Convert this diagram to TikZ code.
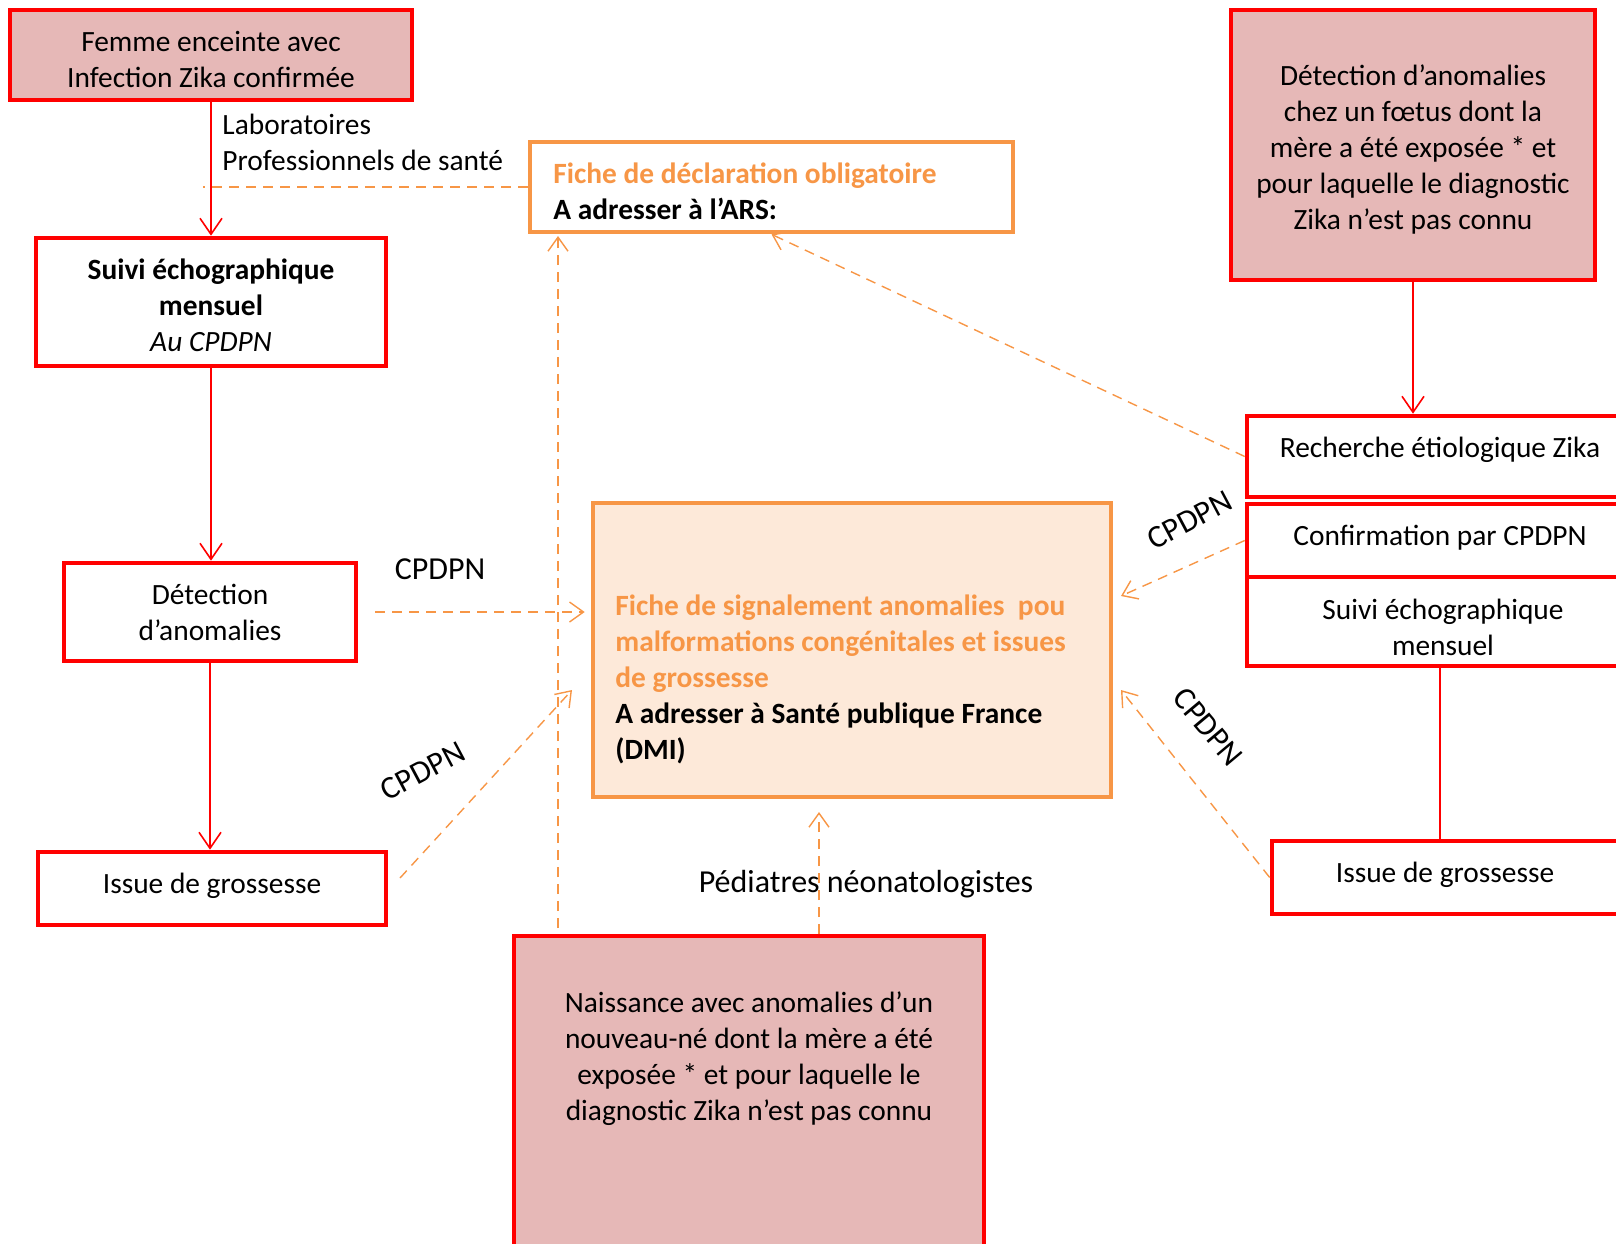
\documentclass[tikz,border=0pt]{standalone}
\usepackage{fontspec}
\setmainfont{Carlito}
\usetikzlibrary{arrows.meta,calc}
\definecolor{zred}{HTML}{FF0000}
\definecolor{zorange}{HTML}{F79646}
\definecolor{zpink}{HTML}{E6B8B7}
\definecolor{zpeach}{HTML}{FDE9D9}
\begin{document}
\begin{tikzpicture}[x=0.5pt,y=-0.5pt,
  every node/.style={font=\fontsize{14.7}{18}\selectfont, inner sep=0pt},
  redbox/.style={draw=zred, line width=2.3pt, rectangle},
  pinkbox/.style={redbox, fill=zpink},
  orbox/.style={draw=zorange, line width=2.3pt, rectangle},
  redarrow/.style={draw=zred, line width=0.8pt, -{Straight Barb[length=8pt,width=11pt]}},
  redline/.style={draw=zred, line width=0.8pt},
  orarrow/.style={draw=zorange, line width=0.7pt, dash pattern=on 5pt off 3.5pt, -{Straight Barb[length=7pt,width=10pt]}},
  orline/.style={draw=zorange, line width=0.7pt, dash pattern=on 5pt off 3.5pt},
  boldfont/.style={font=\bfseries\fontsize{14.7}{18}\selectfont},
  bigfont/.style={font=\fontsize{16}{19}\selectfont},
]
\useasboundingbox (0,0) rectangle (1616,1243);
\clip (0,0) rectangle (1616,1243);

% left column
\node[pinkbox, minimum width=201pt, minimum height=45pt] (femme) at (211,55) {};
\node[align=center] (femmet) at (211,59) {Femme enceinte avec\\Infection Zika confirmée};
\node[anchor=west, align=left] (labo) at (222,142) {Laboratoires\\Professionnels de santé};
\node[redbox, fill=white, minimum width=175pt, minimum height=64pt, align=center] (suiviL) at (211,302) {};
\node[align=center] (suiviLt) at (211,305) {\textbf{Suivi échographique}\\\textbf{mensuel}\\\textit{Au CPDPN}};
\node[redbox, fill=white, minimum width=146pt, minimum height=49pt, align=center] (detL) at (210,612) {Détection\\d’anomalies};
\node[redbox, fill=white, minimum width=174pt, minimum height=36.5pt] (issueL) at (212,888.5) {};
\node (issueLt) at (212,886) {Issue de grossesse};

% forms
\node[orbox, fill=white, minimum width=241.5pt, minimum height=45pt] (ficheD) at (771.5,187) {};
\node[anchor=west, align=left, boldfont] (ficheDt) at (553,191) {\textcolor{zorange}{Fiche de déclaration obligatoire}\\A adresser à l’ARS:};
\node[orbox, fill=zpeach, minimum width=259pt, minimum height=147pt] (ficheS) at (852,650) {};
\node[anchor=west, align=left, boldfont] (ficheSt) at (615,679) {\textcolor{zorange}{Fiche de signalement anomalies~ pou}\\\textcolor{zorange}{malformations congénitales et issues}\\\textcolor{zorange}{de grossesse}\\A adresser à Santé publique France\\(DMI)};

% bottom
\node[pinkbox, minimum width=235pt, minimum height=172pt] (naiss) at (749,1108) {};
\node[align=center] (naisst) at (749,1059) {Naissance avec anomalies d’un\\nouveau-né dont la mère a été\\exposée * et pour laquelle le\\diagnostic Zika n’est pas connu};

% right column
\node[pinkbox, minimum width=182pt, minimum height=135pt] (rpink) at (1413,145) {};
\node[align=center] (rpinkt) at (1413,149) {Détection d’anomalies\\chez un fœtus dont la\\mère a été exposée * et\\pour laquelle le diagnostic\\Zika n’est pas connu};
\node[redbox, fill=white, minimum width=206.5pt, minimum height=40.5pt] (rech) at (1453.5,456.5) {};
\node (recht) at (1440,450) {Recherche étiologique Zika};
\node[redbox, fill=white, minimum width=206.5pt, minimum height=36.5pt] (conf) at (1453.5,540.5) {};
\node (conft) at (1440,538) {Confirmation par CPDPN};
\node[redbox, fill=white, minimum width=206.5pt, minimum height=44.5pt] (suiviR) at (1453.5,621.5) {};
\node[align=center] (suiviRt) at (1443,627) {Suivi échographique\\mensuel};
\node[redbox, fill=white, minimum width=194pt, minimum height=36.5pt] (issueR) at (1466,877.5) {};
\node (issueRt) at (1445,875) {Issue de grossesse};

% red connectors
\draw[redarrow] (femme.south) -- (femme.south |- suiviL.north);
\draw[redarrow] (suiviL.south) -- (suiviL.south |- detL.north);
\draw[redarrow] (detL.south) -- (detL.south |- issueL.north);
\draw[redarrow] (rpink.south) -- (rpink.south |- rech.north);
\coordinate (sr) at (1440,667);
\draw[redline] (sr) -- (sr |- issueR.north);

% orange dashed connectors
\coordinate (dl) at (203,187);
\draw[orline] (ficheD.west) -- (dl);
\draw[orarrow] ([xshift=8.5pt]detL.east) -- ([xshift=-3pt]detL.east -| ficheS.west);
\coordinate (d1) at (400,878);
\coordinate (d2) at (572,690);
\draw[orarrow] (d1) -- (d2);
\coordinate (v1) at (558,928);
\coordinate (v2) at (558,236);
\draw[orarrow] (v1) -- (v2);
\coordinate (p1) at (819,934);
\coordinate (p2) at (819,812);
\draw[orarrow] (p1) -- (p2);
\draw[orarrow] (rech.west) -- (ficheD.south);
\coordinate (fs1) at (1121,596);
\coordinate (fs2) at (1121,690);
\draw[orarrow] (conf.west) -- (fs1);
\draw[orarrow] (issueR.west) -- (fs2);

% labels
\node[bigfont] (c1) at (440,569) {CPDPN};
\node[bigfont, rotate=28] (c2) at (423,771) {CPDPN};
\node[bigfont, rotate=28] (c3) at (1190,520) {CPDPN};
\node[bigfont, rotate=-50] (c4) at (1208,727) {CPDPN};
\node[bigfont] (ped) at (866,884) {Pédiatres néonatologistes};
\end{tikzpicture}
\end{document}
